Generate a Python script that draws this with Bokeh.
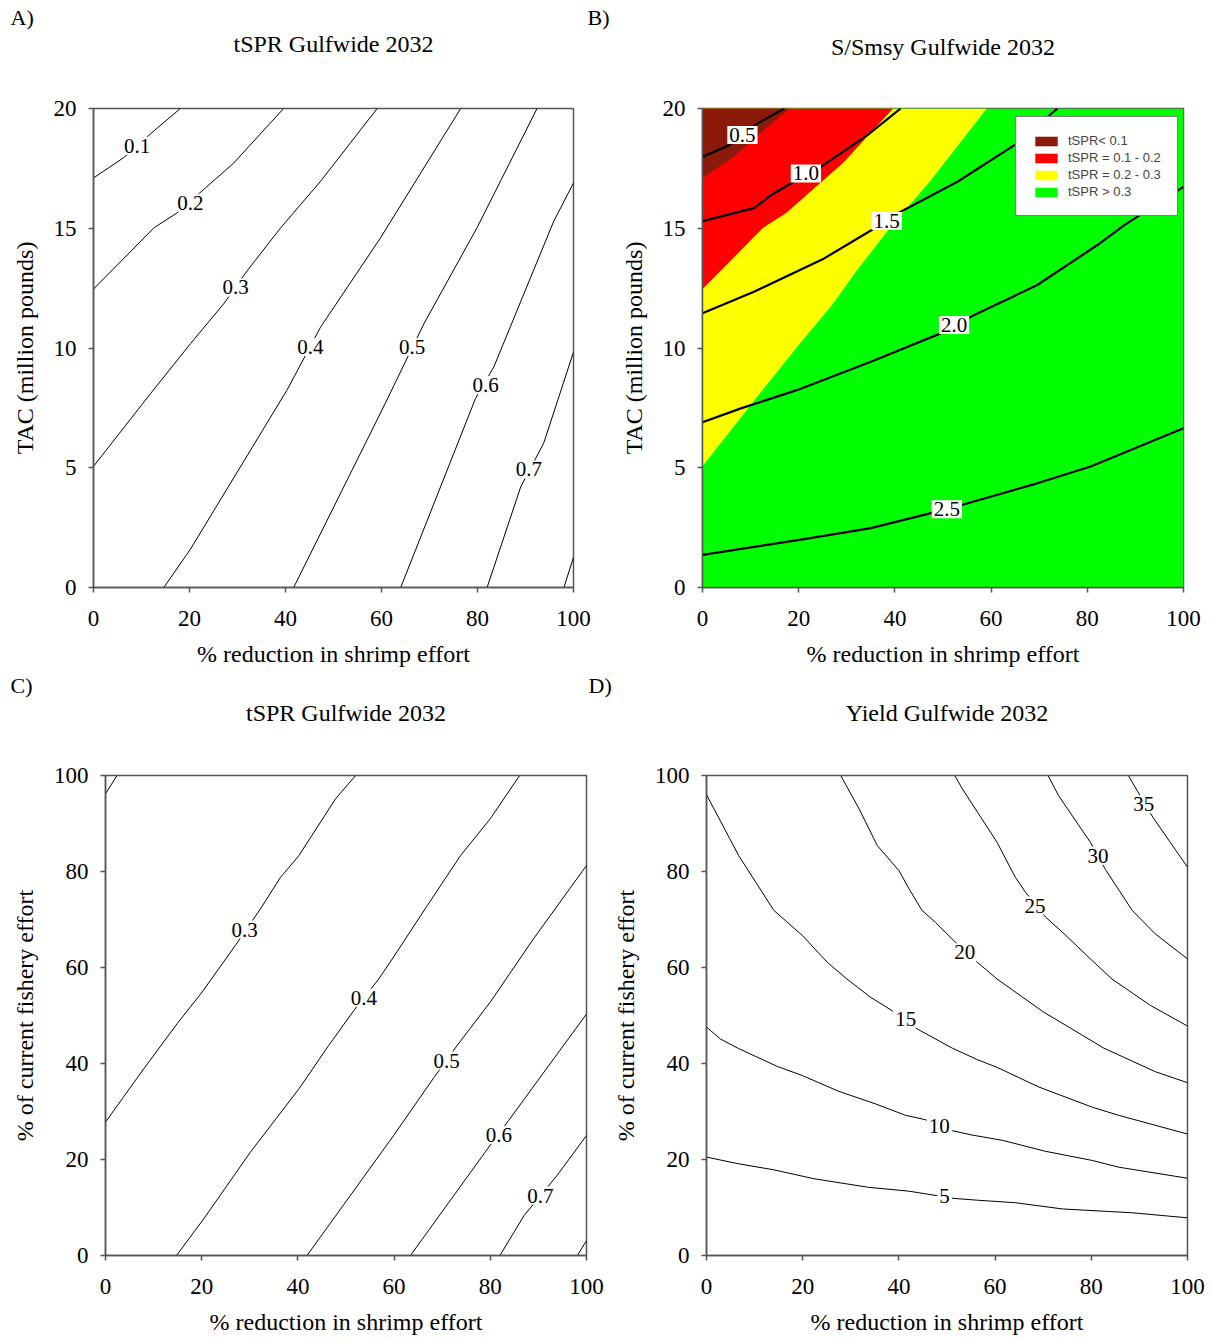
from bokeh.plotting import figure
from bokeh.layouts import row, column
from bokeh.models import Legend, LegendItem, FixedTicker, Range1d
from bokeh.embed import file_html
from bokeh.resources import INLINE
from bokeh.core.properties import value

# ---------------- data ----------------
X_TICKS = [0, 20, 40, 60, 80, 100]
TAC_TICKS = [0, 5, 10, 15, 20]
EFFORT_TICKS = [0, 20, 40, 60, 80, 100]
X_RANGE = (0, 100)
TAC_RANGE = (0, 20)
EFFORT_RANGE = (0, 100)

PANEL_TAGS = ["A)", "B)", "C)", "D)"]
PANEL_TITLES = ["tSPR Gulfwide 2032", "S/Smsy Gulfwide 2032",
                "tSPR Gulfwide 2032", "Yield Gulfwide 2032"]
X_LABEL = "% reduction in shrimp effort"
Y_LABEL_TOP = "TAC (million pounds)"
Y_LABEL_BOTTOM = "% of current fishery effort"

# Panel A: tSPR contours (x = % reduction in shrimp effort, y = TAC)
A_LEVELS = ["0.1", "0.2", "0.3", "0.4", "0.5", "0.6", "0.7", "0.8"]
A_X = [
    [0, 6.3, 9.1, 12.2, 18.1],
    [0, 12.6, 17.4, 23.3, 29.2, 39.6],
    [0, 11.9, 20.2, 27.1, 32.0, 39.0, 47.3, 59.1],
    [14.65, 20.2, 40.3, 47.3, 59.8, 76.5],
    [41.7, 60.1, 68.8, 79.9, 92.4],
    [64.0, 79.6, 83.4, 95.9, 100],
    [82.0, 89.0, 93.8, 100],
    [98.0, 100],
]
A_Y = [
    [17.1, 17.95, 18.44, 19.0, 20],
    [12.46, 15.02, 15.64, 16.68, 17.72, 20],
    [5.06, 8.1, 10.18, 11.84, 13.22, 15.02, 16.96, 20],
    [0, 1.6, 8.24, 10.87, 14.6, 20],
    [0, 7.41, 11.0, 15.02, 20],
    [0, 7.9, 9.21, 15.3, 16.89],
    [0, 4.2, 6.03, 9.83],
    [0, 1.26],
]
A_LABELS = ["0.1", "0.2", "0.3", "0.4", "0.5", "0.6", "0.7"]
A_LABEL_X = [9.1, 20.2, 29.6, 45.2, 66.4, 81.7, 90.7]
A_LABEL_Y = [18.44, 16.06, 12.53, 10.04, 10.04, 8.45, 4.93]

# Panel B: S/Smsy contours
B_LEVELS = ["0.5", "1.0", "1.5", "2.0", "2.5"]
B_X = [
    [0, 5.5, 11.4, 17.0],
    [0, 10.7, 14.55, 19.0, 24.6, 34.3, 41.2],
    [0, 10.7, 25.3, 35.7, 41.2, 53.0, 65.1, 73.8],
    [0, 8.0, 19.75, 35.0, 49.5, 56.5, 69.6, 82.1, 87.7, 100],
    [0, 21.1, 35.0, 50.8, 69.6, 80.7, 100],
]
B_Y = [
    [17.98, 18.46, 19.37, 20],
    [15.3, 15.84, 16.42, 16.94, 17.56, 18.89, 20],
    [11.45, 12.35, 13.74, 14.99, 15.69, 16.94, 18.5, 20],
    [6.9, 7.48, 8.25, 9.43, 10.61, 11.38, 12.63, 14.3, 15.13, 16.73],
    [1.36, 2.02, 2.48, 3.27, 4.35, 5.05, 6.65],
]
B_LABEL_X = [8.3, 21.5, 38.3, 52.3, 50.8]
B_LABEL_Y = [18.89, 17.29, 15.3, 10.96, 3.27]
B_BANDS = ["tSPR< 0.1", "tSPR = 0.1 - 0.2", "tSPR = 0.2 - 0.3", "tSPR > 0.3"]
B_BAND_COLORS = ["#8B1A0A", "#FF0000", "#FFFF00", "#00FF00"]

# Panel C: tSPR contours (y = % of current fishery effort)
C_X = [
    [0, 2.4],
    [0, 7.96, 14.9, 20.1, 27.0, 32.2, 36.4, 40.2, 47.8, 52.0],
    [14.76, 20.4, 30.1, 40.2, 46.4, 51.6, 56.8, 59.9, 66.9, 73.8, 80.0, 86.1],
    [41.9, 59.9, 68.3, 73.1, 80.0, 89.0, 100],
    [63.4, 79.7, 83.8, 93.2, 100],
    [82.0, 87.0, 93.9, 100],
    [98.1, 100],
]
C_Y = [
    [96.2, 100],
    [27.8, 38.9, 48.3, 54.9, 64.6, 72.2, 78.8, 83.3, 95.1, 100],
    [0, 7.6, 21.5, 34.7, 43.75, 51.0, 57.6, 62.2, 72.9, 83.3, 91.0, 100],
    [0, 25.0, 37.1, 43.75, 52.8, 66.0, 81.25],
    [0, 22.6, 28.1, 41.0, 50.3],
    [0, 8.3, 16.7, 25.0],
    [0, 3.1],
]
C_LABELS = ["0.3", "0.4", "0.5", "0.6", "0.7"]
C_LABEL_X = [28.9, 53.7, 70.9, 81.8, 90.4]
C_LABEL_Y = [67.9, 53.7, 40.6, 25.1, 12.5]

# Panel D: Yield contours
D_LEVELS = ["5", "10", "15", "20", "25", "30", "35"]
D_X = [
    [0, 6.7, 14.0, 22.3, 33.7, 42.1, 51.4, 56.6, 64.2, 74.0, 88.5, 100],
    [0, 2.9, 6.7, 14.7, 19.9, 27.5, 35.1, 41.4, 45.5, 51.1, 55.2, 61.5, 70.5, 80.2, 85.7, 100],
    [0, 6.7, 14.0, 19.9, 25.1, 29.2, 34.1, 38.6, 43.8, 51.1, 56.3, 60.4, 69.1, 80.2, 85.7, 100],
    [27.9, 31.7, 35.5, 40.0, 42.1, 44.8, 47.6, 51.4, 56.3, 60.4, 70.1, 75.3, 82.6, 93.3, 100],
    [51.6, 53.2, 60.4, 64.2, 66.3, 70.5, 73.95, 79.8, 84.3, 92.3, 100],
    [71.0, 73.2, 79.8, 82.95, 88.5, 93.3, 100],
    [87.7, 89.5, 92.8, 100],
]
D_Y = [
    [20.5, 19.1, 17.85, 16.0, 14.2, 13.4, 11.9, 11.5, 11.0, 9.7, 8.9, 7.85],
    [47.6, 45.1, 43.1, 39.4, 37.5, 34.2, 31.6, 29.2, 28.3, 26.0, 25.1, 24.0, 21.7, 19.8, 18.4, 16.1],
    [96.0, 83.3, 71.9, 66.7, 61.1, 57.6, 53.8, 51.0, 47.2, 43.2, 40.8, 39.2, 35.1, 30.9, 29.2, 25.3],
    [100, 93.1, 85.4, 80.2, 76.4, 71.9, 69.4, 65.6, 61.1, 57.6, 50.7, 47.6, 43.2, 38.3, 36.0],
    [100, 97.2, 86.1, 78.8, 75.7, 70.5, 67.4, 61.8, 57.6, 52.1, 47.8],
    [100, 95.8, 86.1, 80.4, 71.9, 67.0, 61.8],
    [100, 96.9, 91.3, 80.9],
]
D_LABEL_X = [49.5, 48.4, 41.4, 53.7, 68.3, 81.4, 90.9]
D_LABEL_Y = [12.4, 26.9, 49.3, 63.2, 72.9, 83.3, 94.0]

# ---------------- layout / styling ----------------
SERIF = "Liberation Serif"
AXIS_COLOR = "#555555"
PAGE_W = 1211

HEAD1_H, ROW1_H, HEAD2_H = 70, 604, 66
ROW2_H = 1341 - HEAD1_H - ROW1_H - HEAD2_H

# (canvas width, border left, frame width, border top, frame height)
GEOM_A = (605, 93, 480, 35, 482)
GEOM_B = (606, 97, 481, 38, 480)
GEOM_C = (606, 105, 481, 35, 480)
GEOM_D = (605, 100, 481, 35, 480)


def make_panel(geom, row_h, y_range, y_ticks, ylabel):
    cw, bl, fw, bt, fh = geom
    p = figure(width=cw, height=row_h,
               x_range=Range1d(*X_RANGE), y_range=Range1d(*y_range),
               output_backend="svg", toolbar_location=None, title=None,
               min_border_left=bl, min_border_right=cw - bl - fw,
               min_border_top=bt, min_border_bottom=row_h - bt - fh,
               background_fill_color="white", border_fill_color="white",
               outline_line_color=AXIS_COLOR, outline_line_width=1.5)
    p.grid.visible = False
    p.xaxis.ticker = FixedTicker(ticks=X_TICKS)
    p.yaxis.ticker = FixedTicker(ticks=y_ticks)
    p.xaxis.axis_label = X_LABEL
    p.yaxis.axis_label = ylabel
    for ax in (p.xaxis, p.yaxis):
        ax.axis_line_color = AXIS_COLOR
        ax.axis_line_width = 1.5
        ax.major_tick_line_color = AXIS_COLOR
        ax.major_tick_line_width = 1.5
        ax.major_tick_in = 0
        ax.major_tick_out = 5
        ax.minor_tick_line_color = None
        ax.major_label_text_font = SERIF
        ax.major_label_text_font_size = "23px"
        ax.major_label_text_color = "black"
        ax.axis_label_text_font = SERIF
        ax.axis_label_text_font_size = "24px"
        ax.axis_label_text_font_style = "normal"
        ax.axis_label_text_color = "black"
    p.xaxis.major_label_standoff = 18
    p.yaxis.major_label_standoff = 12
    p.xaxis.axis_label_standoff = 12
    p.yaxis.axis_label_standoff = 13
    return p


def make_header(height, left_geom, right_geom, tags, titles, tag_y, title_y):
    """Strip above a row of panels holding the panel tags and titles."""
    h = figure(width=PAGE_W, height=height, x_range=Range1d(0, PAGE_W),
               y_range=Range1d(height, 0), output_backend="svg",
               toolbar_location=None, title=None, x_axis_type=None, y_axis_type=None,
               min_border=0, outline_line_color=None,
               background_fill_color="white", border_fill_color="white")
    lw = left_geom[0]
    centers = [left_geom[1] + left_geom[2] / 2, lw + right_geom[1] + right_geom[2] / 2]
    h.text(x=[10, lw - 18], y=[tag_y, tag_y], text=tags, text_font=value(SERIF),
           text_font_size="22px", text_align="left", text_baseline="middle",
           text_color="black")
    h.text(x=centers, y=title_y, text=titles, text_font=value(SERIF),
           text_font_size="24px", text_align="center", text_baseline="middle",
           text_color="black")
    return h


def add_labels(p, xs, ys, texts, size="21px"):
    p.text(x=xs, y=ys, text=texts, text_font=value(SERIF), text_font_size=size,
           text_align="center", text_baseline="middle", text_color="black",
           background_fill_color="white", padding=2)


head1 = make_header(HEAD1_H, GEOM_A, GEOM_B, PANEL_TAGS[:2], PANEL_TITLES[:2], 17, [43, 46])
head2 = make_header(HEAD2_H, GEOM_C, GEOM_D, PANEL_TAGS[2:], PANEL_TITLES[2:], 11, [38, 38])

# Panel A
pA = make_panel(GEOM_A, ROW1_H, TAC_RANGE, TAC_TICKS, Y_LABEL_TOP)
pA.multi_line(xs=A_X, ys=A_Y, line_color="black", line_width=1)
add_labels(pA, A_LABEL_X, A_LABEL_Y, A_LABELS)

# Panel B
pB = make_panel(GEOM_B, ROW1_H, TAC_RANGE, TAC_TICKS, Y_LABEL_TOP)
corner_x, corner_y = X_RANGE[0], TAC_RANGE[1]
rg = pB.patch([X_RANGE[0], X_RANGE[1], X_RANGE[1], X_RANGE[0]],
              [TAC_RANGE[0], TAC_RANGE[0], TAC_RANGE[1], TAC_RANGE[1]],
              fill_color=B_BAND_COLORS[3], line_alpha=0)
# regions above the tSPR = 0.3 / 0.2 / 0.1 contours
ry = pB.patch(A_X[2] + [corner_x], A_Y[2] + [corner_y], fill_color=B_BAND_COLORS[2], line_alpha=0)
rr = pB.patch(A_X[1] + [corner_x], A_Y[1] + [corner_y], fill_color=B_BAND_COLORS[1], line_alpha=0)
rd = pB.patch(A_X[0] + [corner_x], A_Y[0] + [corner_y], fill_color=B_BAND_COLORS[0], line_alpha=0)
pB.multi_line(xs=B_X, ys=B_Y, line_color="black", line_width=2.2)
add_labels(pB, B_LABEL_X, B_LABEL_Y, B_LEVELS)
legend = Legend(items=[LegendItem(label=B_BANDS[0], renderers=[rd]),
                       LegendItem(label=B_BANDS[1], renderers=[rr]),
                       LegendItem(label=B_BANDS[2], renderers=[ry]),
                       LegendItem(label=B_BANDS[3], renderers=[rg])],
                location=(313, 371), orientation="vertical",
                label_text_font="Liberation Sans", label_text_font_size="13px",
                glyph_width=28, glyph_height=12, label_height=15, label_standoff=8,
                spacing=2, padding=16, margin=0,
                border_line_color="black", border_line_width=1,
                background_fill_color="white", background_fill_alpha=1)
pB.add_layout(legend, "center")

# Panel C
pC = make_panel(GEOM_C, ROW2_H, EFFORT_RANGE, EFFORT_TICKS, Y_LABEL_BOTTOM)
pC.multi_line(xs=C_X, ys=C_Y, line_color="black", line_width=1)
add_labels(pC, C_LABEL_X, C_LABEL_Y, C_LABELS)

# Panel D
pD = make_panel(GEOM_D, ROW2_H, EFFORT_RANGE, EFFORT_TICKS, Y_LABEL_BOTTOM)
pD.multi_line(xs=D_X, ys=D_Y, line_color="black", line_width=1)
add_labels(pD, D_LABEL_X, D_LABEL_Y, D_LEVELS)

layout = column(head1, row(pA, pB), head2, row(pC, pD))
open("out.html", "w").write(file_html(layout, INLINE))
